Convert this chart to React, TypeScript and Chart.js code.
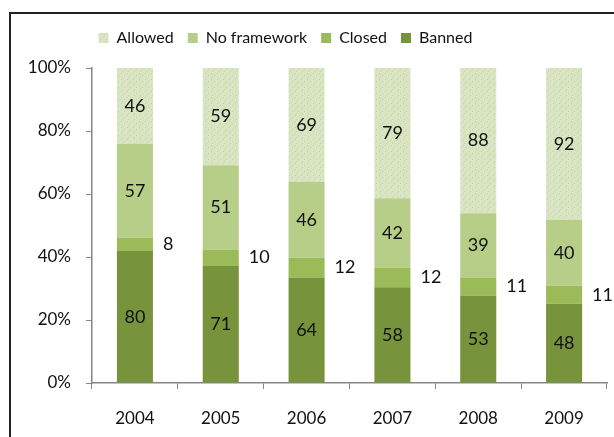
import React, { useEffect, useRef } from "react";
import { Chart, registerables } from "chart.js";

Chart.register(...registerables);

const years = ["2004", "2005", "2006", "2007", "2008", "2009"];
const banned = [80, 71, 64, 58, 53, 48];
const closed = [8, 10, 12, 12, 11, 11];
const noFramework = [57, 51, 46, 42, 39, 40];
const allowed = [46, 59, 69, 79, 88, 92];
const yTicks = [0, 20, 40, 60, 80, 100];

const totals = years.map((_, i) => banned[i] + closed[i] + noFramework[i] + allowed[i]);
const pct = (arr: number[]) => arr.map((v, i) => (v / totals[i]) * 100);

function makeDots(): CanvasPattern | string {
  const c = document.createElement("canvas");
  c.width = 6;
  c.height = 6;
  const ctx = c.getContext("2d");
  if (!ctx) return "#D7E4BD";
  ctx.fillStyle = "#D9E5C2";
  ctx.fillRect(0, 0, 6, 6);
  ctx.fillStyle = "#C3D3A3";
  ctx.fillRect(1, 1, 1, 1);
  ctx.fillRect(4, 3, 1, 1);
  ctx.fillRect(2, 5, 1, 1);
  const p = ctx.createPattern(c, "repeat");
  return p || "#D7E4BD";
}

const FONT = "Lato, 'Open Sans', sans-serif";

const labelPlugin = {
  id: "valueLabels",
  afterLayout(chart: any) {
    const lg = chart.legend;
    if (lg) {
      lg.left -= 18;
      lg.right -= 18;
      lg.top -= 12;
      lg.bottom -= 12;
    }
  },
  afterDatasetsDraw(chart: any) {
    const ctx = chart.ctx;
    ctx.save();
    ctx.font = `18px ${FONT}`;
    ctx.fillStyle = "#111";
    ctx.textBaseline = "middle";
    chart.data.datasets.forEach((ds: any, di: number) => {
      const meta = chart.getDatasetMeta(di);
      const raw: number[] = ds.rawValues;
      meta.data.forEach((bar: any, i: number) => {
        const p = bar.getProps(["x", "y", "base", "width"], true);
        const midY = (p.y + p.base) / 2;
        if (ds.outside) {
          ctx.textAlign = "left";
          ctx.fillText(String(raw[i]), p.x + p.width / 2 + 10, midY);
        } else {
          ctx.textAlign = "center";
          ctx.fillText(String(raw[i]), p.x, midY);
        }
      });
    });
    ctx.restore();
  },
};

export default function App() {
  const ref = useRef<HTMLCanvasElement | null>(null);
  useEffect(() => {
    document.body.style.margin = "0";
    if (!ref.current) return;
    const dots = makeDots();
    const chart = new Chart(ref.current, {
      type: "bar",
      data: {
        labels: years,
        datasets: [
          { label: "Banned", data: pct(banned), rawValues: banned, backgroundColor: "#77933C" } as any,
          { label: "Closed", data: pct(closed), rawValues: closed, outside: true, backgroundColor: "#9BBB59" } as any,
          { label: "No framework", data: pct(noFramework), rawValues: noFramework, backgroundColor: "#B7CE89" } as any,
          { label: "Allowed", data: pct(allowed), rawValues: allowed, backgroundColor: dots } as any,
        ],
      },
      options: {
        animation: false,
        responsive: false,
        maintainAspectRatio: false,
        layout: { padding: { left: 0, right: 7, top: 28, bottom: 0 } },
        datasets: { bar: { barPercentage: 0.42, categoryPercentage: 1 } },
        plugins: {
          legend: {
            position: "top",
            reverse: true,
            labels: {
              boxWidth: 10,
              boxHeight: 10,
              padding: 14,
              color: "#111",
              font: { family: FONT, size: 16 },
            },
          },
          tooltip: { enabled: false },
        },
        scales: {
          x: {
            stacked: true,
            grid: { offset: true, drawOnChartArea: false, drawTicks: true, tickLength: 6, color: "#868686" },
            border: { color: "#868686", width: 1.5 },
            ticks: { color: "#111", font: { family: FONT, size: 17 }, padding: 19 },
            afterFit: (s: any) => { s.height = 54; },
          },
          y: {
            stacked: true,
            min: 0,
            max: 100,
            afterBuildTicks: (s: any) => { s.ticks = yTicks.map((v) => ({ value: v })); },
            grid: { drawOnChartArea: false, drawTicks: true, tickLength: 6, color: "#868686" },
            border: { color: "#868686", width: 1.5 },
            ticks: { color: "#111", font: { family: FONT, size: 17 }, padding: 15, callback: (v: any) => v + "%" },
            afterFit: (s: any) => { s.width = 92; },
          },
        },
      } as any,
      plugins: [labelPlugin],
    });
    return () => chart.destroy();
  }, []);
  return (
    <div style={{ position: "relative", width: 614, height: 437, background: "#fff", overflow: "hidden" }}>
      <div style={{ position: "absolute", left: 9, top: 12, right: -5, bottom: -5, borderLeft: "2px solid #222", borderTop: "2px solid #222" }} />
      <canvas ref={ref} width={614} height={437} style={{ position: "absolute", left: 0, top: 0 }} />
    </div>
  );
}
